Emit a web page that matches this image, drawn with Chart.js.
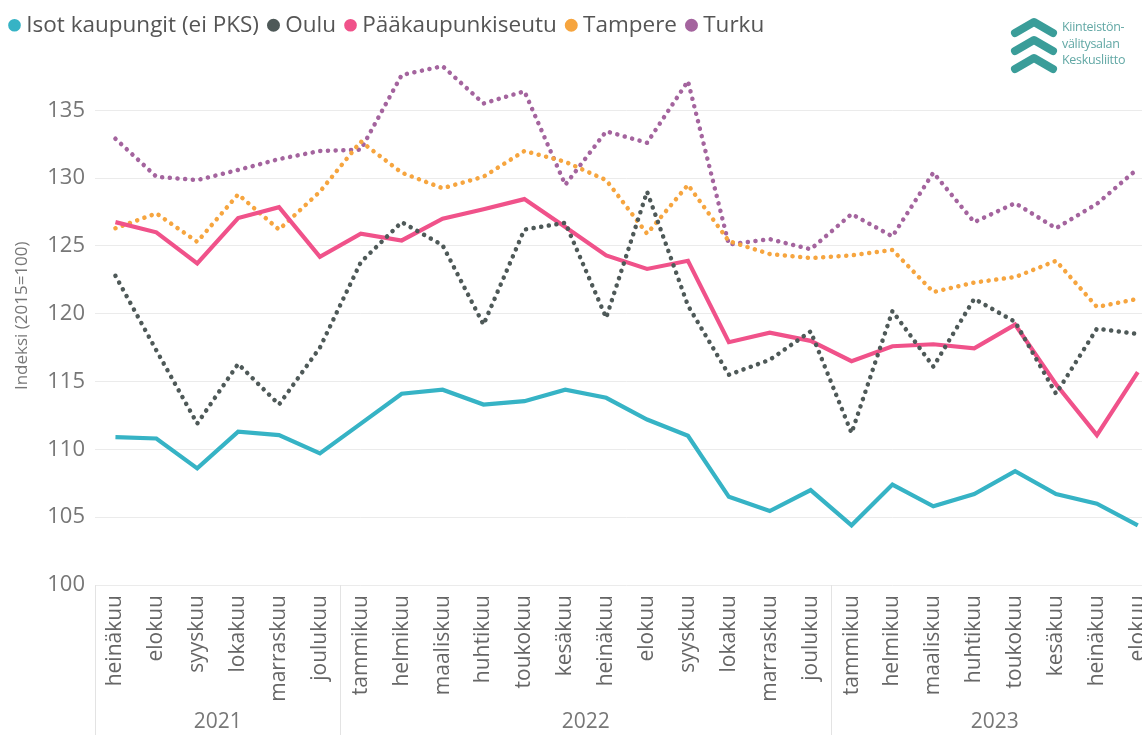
<!DOCTYPE html>
<html lang="fi">
<head>
    <meta charset="UTF-8">
    <title>Asuntojen hintaindeksi</title>
    <script src="https://cdn.jsdelivr.net/npm/chart.js"></script>
    <style>
        html, body { margin: 0; padding: 0; background: #fff; overflow: hidden; }
        #wrap { position: absolute; left: 0; top: 0; width: 1165px; height: 735px; }
        #logo { position: absolute; left: 1008px; top: 14px; width: 134px; height: 64px; }
        #logo svg { position: absolute; left: 0; top: 0; }
        #logo .txt { position: absolute; left: 54px; top: 5px; font-family: "Open Sans", sans-serif;
            font-size: 12.5px; line-height: 16.5px; color: #62a8a5; letter-spacing: -0.3px; }
    </style>
</head>
<body>
    <div id="wrap"><canvas id="chart"></canvas></div>

    <!-- logo -->
    <div id="logo">
        <svg width="52" height="64" viewBox="0 0 52 64">
            <g fill="none" stroke="#3a9d99" stroke-width="8" stroke-linecap="round" stroke-linejoin="round">
                <polyline points="7,19 26,8 45,19"/>
                <polyline points="7,37 26,26 45,37"/>
                <polyline points="7,55 26,44 45,55"/>
            </g>
        </svg>
        <div class="txt">Kiinteistön-<br>välitysalan<br>Keskusliitto</div>
    </div>

    <script>
        // kuukaudet heinäkuu 2021 - elokuu 2023
        const months = ['heinäkuu', 'elokuu', 'syyskuu', 'lokakuu', 'marraskuu', 'joulukuu',
            'tammikuu', 'helmikuu', 'maaliskuu', 'huhtikuu', 'toukokuu', 'kesäkuu',
            'heinäkuu', 'elokuu', 'syyskuu', 'lokakuu', 'marraskuu', 'joulukuu',
            'tammikuu', 'helmikuu', 'maaliskuu', 'huhtikuu', 'toukokuu', 'kesäkuu',
            'heinäkuu', 'elokuu'];
        const years = ['2021', '2022', '2023'];
        const yearCounts = [6, 12, 8];

        const isot = [110.9, 110.8, 108.6, 111.3, 111.05, 109.7, 111.9, 114.1, 114.4, 113.3, 113.55, 114.4, 113.8,
            112.2, 111.0, 106.5, 105.45, 107.0, 104.4, 107.4, 105.8, 106.7, 108.4, 106.7, 106.0, 104.4];
        const oulu = [122.8, 117.3, 111.9, 116.3, 113.3, 117.5, 123.8, 126.75, 125.05, 119.2, 126.2, 126.7, 119.7,
            129.0, 120.6, 115.5, 116.6, 118.7, 111.2, 120.2, 116.1, 121.1, 119.4, 114.1, 118.9, 118.5];
        const pks = [126.75, 126.0, 123.7, 127.05, 127.85, 124.2, 125.9, 125.4, 127.0, 127.7, 128.45, 126.4, 124.3,
            123.3, 123.9, 117.9, 118.6, 118.0, 116.5, 117.6, 117.75, 117.45, 119.2, 114.8, 111.05, 115.7];
        const tampere = [126.3, 127.4, 125.3, 128.8, 126.2, 129.0, 132.7, 130.4, 129.25, 130.1, 132.0, 131.2, 129.85,
            125.9, 129.5, 125.35, 124.4, 124.1, 124.3, 124.7, 121.6, 122.3, 122.7, 123.9, 120.5, 121.1];
        const turku = [132.9, 130.1, 129.85, 130.6, 131.4, 132.0, 132.1, 137.6, 138.25, 135.5, 136.4, 129.5, 133.45,
            132.6, 137.15, 125.1, 125.5, 124.75, 127.35, 125.7, 130.4, 126.75, 128.15, 126.3, 128.1, 130.7];

        const yTicks = [100, 105, 110, 115, 120, 125, 130, 135];

        const FONT = '"Open Sans", "Noto Sans", sans-serif';
        Chart.defaults.font.family = FONT;

        function solid(label, data, color) {
            return { label, data, borderColor: color, backgroundColor: color, borderWidth: 4.2,
                pointRadius: 0, pointHoverRadius: 0, tension: 0, fill: false };
        }
        function dotted(label, data, color) {
            return { label, data, borderColor: color, backgroundColor: color, borderWidth: 4.5,
                borderDash: [0.1, 7.6], borderCapStyle: 'round', pointRadius: 0, pointHoverRadius: 0,
                tension: 0, fill: false };
        }

        // vuosiryhmät x-akselin alle
        const yearGroups = {
            id: 'yearGroups',
            afterDraw(chart) {
                const ctx = chart.ctx;
                const x = chart.scales.x;
                const step = x.getPixelForValue(1) - x.getPixelForValue(0);
                const top = chart.chartArea.bottom;
                const bottom = chart.height;
                ctx.save();
                ctx.strokeStyle = '#e3e3e3';
                ctx.lineWidth = 1;
                ctx.fillStyle = '#777';
                ctx.font = '21px ' + FONT;
                ctx.textAlign = 'center';
                ctx.textBaseline = 'middle';
                let i = 0;
                years.forEach((yr, k) => {
                    const x0 = x.getPixelForValue(i) - step / 2;
                    const x1 = x.getPixelForValue(i + yearCounts[k] - 1) + step / 2;
                    ctx.beginPath();
                    ctx.moveTo(Math.round(x0) + 0.5, top);
                    ctx.lineTo(Math.round(x0) + 0.5, bottom);
                    ctx.stroke();
                    ctx.fillText(yr, (x0 + x1) / 2, 722);
                    i += yearCounts[k];
                });
                ctx.restore();
            }
        };

        new Chart(document.getElementById('chart'), {
            type: 'line',
            data: {
                labels: months,
                datasets: [
                    solid('Isot kaupungit (ei PKS)', isot, '#36b3c5'),
                    dotted('Oulu', oulu, '#4e5958'),
                    solid('Pääkaupunkiseutu', pks, '#f0528a'),
                    dotted('Tampere', tampere, '#f6a53f'),
                    dotted('Turku', turku, '#a4649e')
                ]
            },
            options: {
                responsive: true,
                maintainAspectRatio: false,
                animation: false,
                layout: { padding: { left: 0, right: 0, top: 0, bottom: 0 } },
                plugins: {
                    legend: {
                        position: 'top',
                        align: 'start',
                        labels: {
                            usePointStyle: true,
                            pointStyle: 'circle',
                            boxWidth: 1,
                            boxHeight: 6,
                            padding: 14,
                            color: '#555',
                            font: { size: 22.5 }
                        }
                    },
                    tooltip: { enabled: false }
                },
                scales: {
                    x: {
                        offset: true,
                        grid: { display: false },
                        border: { display: false },
                        ticks: {
                            autoSkip: false,
                            maxRotation: 90,
                            minRotation: 90,
                            color: '#666',
                            font: { size: 21 },
                            padding: 2
                        },
                        afterFit(scale) { scale.height = 150; }
                    },
                    y: {
                        min: 100,
                        max: 139.7,
                        grid: { color: '#ebebeb', lineWidth: 1, drawTicks: false },
                        border: { display: false },
                        ticks: { stepSize: 5, color: '#777', font: { size: 22 }, padding: 10 },
                        afterBuildTicks(scale) {
                            scale.ticks = yTicks.map(v => ({ value: v }));
                        },
                        title: {
                            display: true,
                            text: 'Indeksi (2015=100)',
                            color: '#777',
                            font: { size: 17 },
                            padding: { top: 12, bottom: 0 }
                        },
                        afterFit(scale) { scale.width = 95; }
                    }
                }
            },
            plugins: [yearGroups]
        });
    </script>
</body>
</html>
